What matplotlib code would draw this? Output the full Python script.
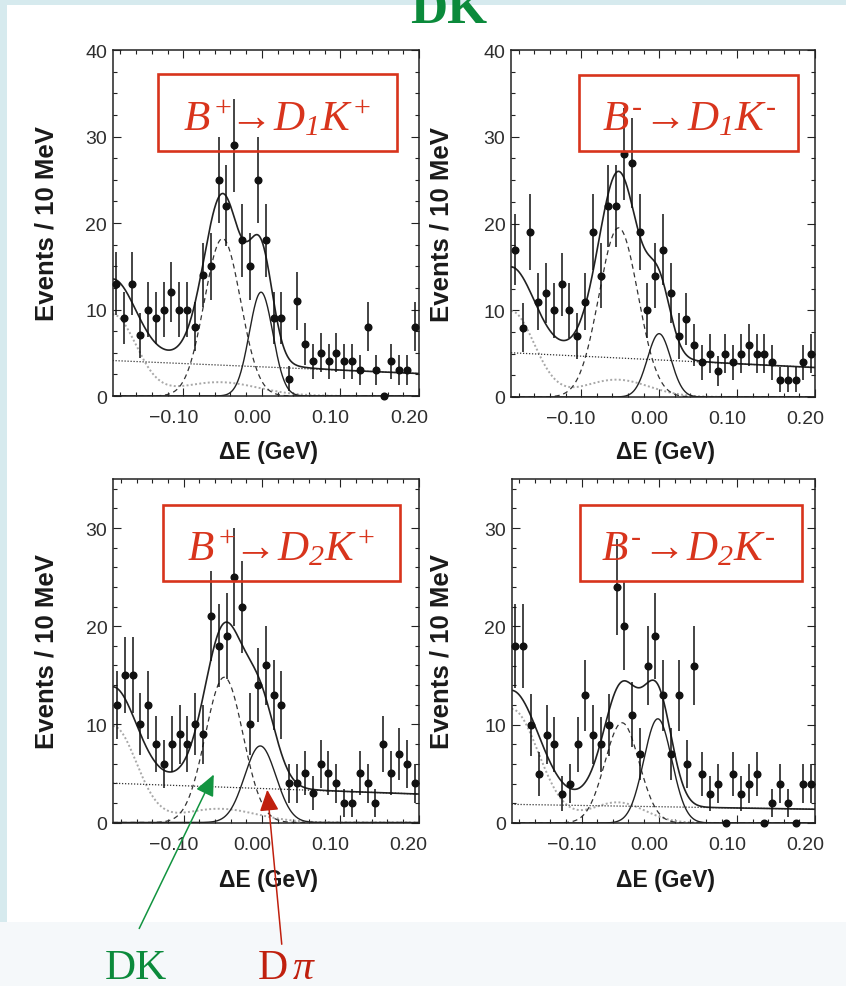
import math
import numpy as np
import matplotlib
matplotlib.use("Agg")
import matplotlib.pyplot as plt
from matplotlib.patches import Rectangle, FancyArrowPatch
from matplotlib.transforms import ScaledTranslation
from matplotlib.ticker import MultipleLocator, FixedLocator

plt.rcParams['font.family'] = ['Liberation Sans', 'DejaVu Sans']
plt.rcParams['mathtext.fontset'] = 'custom'
plt.rcParams['mathtext.rm'] = 'Liberation Serif:italic'
plt.rcParams['mathtext.it'] = 'Liberation Serif:italic'
plt.rcParams['mathtext.bf'] = 'Liberation Serif:bold'

# ---------------- data ----------------
DELTA_E = [-0.185, -0.175, -0.165, -0.155, -0.145, -0.135, -0.125, -0.115, -0.105, -0.095,
           -0.085, -0.075, -0.065, -0.055, -0.045, -0.035, -0.025, -0.015, -0.005, 0.005,
           0.015, 0.025, 0.035, 0.045, 0.055, 0.065, 0.075, 0.085, 0.095, 0.105,
           0.115, 0.125, 0.135, 0.145, 0.155, 0.165, 0.175, 0.185, 0.195]
X_RANGE = (-0.19, 0.20)
X_TICKS = [-0.10, 0.00, 0.10, 0.20]
X_TICK_LABELS = ['\u22120.10', '0.00', '0.10', '0.20']

COUNTS_BP_D1 = [13, 9, 13, 7, 10, 9, 10, 12, 10, 10, 8, 14, 15, 25, 22, 29, 18, 15, 25, 18,
                9, 9, 2, 11, 6, 4, 5, 4, 5, 4, 4, 3, 8, 3, 0, 4, 3, 3, 8]
COUNTS_BM_D1 = [17, 8, 19, 11, 12, 10, 13, 10, 7, 11, 19, 14, 22, 22, 28, 27, 19, 10, 14, 17,
                12, 7, 9, 6, 4, 5, 3, 5, 4, 5, 6, 5, 5, 4, 2, 2, 2, 4, 5]
COUNTS_BP_D2 = [12, 15, 15, 10, 12, 8, 6, 8, 9, 8, 10, 9, 21, 18, 19, 25, 22, 10, 14, 16,
                13, 12, 4, 4, 5, 3, 6, 5, 4, 2, 2, 5, 4, 2, 8, 5, 7, 6, 4]
COUNTS_BM_D2 = [18, 18, 10, 5, 9, 8, 3, 4, 8, 13, 9, 8, 10, 24, 20, 11, 7, 16, 19, 13,
                7, 13, 6, 16, 5, 3, 4, 0, 5, 3, 4, 5, 0, 2, 4, 2, 0, 4, 4]

# fit components: linear background (value at left, right end),
# other background (edge gaussian amp, mean, sigma, bump amp, mean, sigma),
# DK signal (amp, mean, sigma), D-pi peak (amp, mean, sigma)
BKG_BP_D1 = (4.1, 2.6)
OTHER_BP_D1 = (9.4, -0.19, 0.030, 1.6, -0.055, 0.050)
DK_BP_D1 = (18.2, -0.050, 0.023)
DPI_BP_D1 = (12.0, -0.001, 0.015)

BKG_BM_D1 = (5.1, 3.4)
OTHER_BM_D1 = (9.9, -0.19, 0.030, 2.0, -0.055, 0.042)
DK_BM_D1 = (19.5, -0.052, 0.025)
DPI_BM_D1 = (7.3, 0.000, 0.015)

BKG_BP_D2 = (4.0, 2.9)
OTHER_BP_D2 = (9.8, -0.19, 0.030, 1.4, -0.055, 0.048)
DK_BP_D2 = (14.8, -0.048, 0.024)
DPI_BP_D2 = (7.8, -0.002, 0.020)

BKG_BM_D2 = (1.9, 1.4)
OTHER_BM_D2 = (11.6, -0.19, 0.035, 2.1, -0.054, 0.035)
DK_BM_D2 = (10.2, -0.048, 0.022)
DPI_BM_D2 = (10.6, -0.002, 0.018)

HY = '\u2010'
LABEL_BP_D1 = r'$B^{+}\!\!\rightarrow\!D_{1}K^{+}$'
LABEL_BM_D1 = r'$B^{' + HY + r'}\!\rightarrow\!D_{1}K^{' + HY + r'}$'
LABEL_BP_D2 = r'$B^{+}\!\!\rightarrow\!D_{2}K^{+}$'
LABEL_BM_D2 = r'$B^{' + HY + r'}\!\rightarrow\!D_{2}K^{' + HY + r'}$'

TITLE = 'DK'
Y_LABEL = 'Events / 10 MeV'
X_LABEL = '\u0394E (GeV)'
ANNOT_DK = 'DK'
ANNOT_DPI = r'D$\,\pi$'

# ---------------- layout ----------------
W, H, DPI = 846, 987, 100
fig = plt.figure(figsize=(W / DPI, H / DPI), dpi=DPI)
fig.patch.set_facecolor('#d6eaee')


def fx(x):
    return x / W


def fy(y):
    return 1 - y / H


# slide background pieces
fig.add_artist(Rectangle((fx(7), fy(923)), 1 - fx(7), (923 - 6) / H,
                         transform=fig.transFigure, facecolor='white', edgecolor='none', zorder=0))
fig.add_artist(Rectangle((0, 0), 1, fy(923), transform=fig.transFigure,
                         facecolor='#f5f8fa', edgecolor='none', zorder=0))


def gauss(x, a, m, s):
    return a * np.exp(-0.5 * ((x - m) / s) ** 2)


panels = [
    dict(rect=(112.5, 51, 419, 397), ymax=40, yminor=2.5, counts=COUNTS_BP_D1,
         bkg=BKG_BP_D1, other=OTHER_BP_D1, dk=DK_BP_D1, dpi=DPI_BP_D1, label=LABEL_BP_D1,
         box=(158.3, 75, 397.3, 152.3), text=(277.5, 130), ylab_x=47, xlab=(268, 452)),
    dict(rect=(511, 51, 815, 398), ymax=40, yminor=2.5, counts=COUNTS_BM_D1,
         bkg=BKG_BM_D1, other=OTHER_BM_D1, dk=DK_BM_D1, dpi=DPI_BM_D1, label=LABEL_BM_D1,
         box=(579, 75.7, 797.7, 152.3), text=(689, 130), ylab_x=441, xlab=(665, 452)),
    dict(rect=(113, 480, 418.5, 823.5), ymax=35, yminor=2, counts=COUNTS_BP_D2,
         bkg=BKG_BP_D2, other=OTHER_BP_D2, dk=DK_BP_D2, dpi=DPI_BP_D2, label=LABEL_BP_D2,
         box=(163.3, 506, 400, 582.3), text=(281, 560), ylab_x=47, xlab=(268, 881)),
    dict(rect=(511.5, 480, 815, 824), ymax=35, yminor=2, counts=COUNTS_BM_D2,
         bkg=BKG_BM_D2, other=OTHER_BM_D2, dk=DK_BM_D2, dpi=DPI_BM_D2, label=LABEL_BM_D2,
         box=(580, 506, 801.7, 582), text=(688, 560), ylab_x=441, xlab=(665, 881)),
]

RED = '#d8341c'
INK = '#222222'
xf = np.linspace(X_RANGE[0], X_RANGE[1], 600)
xc = np.array(DELTA_E)

for p in panels:
    l, t, r, b = p['rect']
    ax = fig.add_axes([fx(l), fy(b), (r - l) / W, (b - t) / H])
    ax.set_xlim(*X_RANGE)
    ax.set_ylim(0, p['ymax'])
    ax.set_facecolor('white')

    b0, b1 = p['bkg']
    lin = b0 + (b1 - b0) * (xf - X_RANGE[0]) / (X_RANGE[1] - X_RANGE[0])
    a1, m1, s1, a2, m2, s2 = p['other']
    other = gauss(xf, a1, m1, s1) + gauss(xf, a2, m2, s2)
    dk = gauss(xf, *p['dk'])
    dpi_ = gauss(xf, *p['dpi'])
    total = lin + other + dk + dpi_

    ax.plot(xf, other, color='#a8a8a8', lw=1.4, ls=(0, (1, 1.2)))
    ax.plot(xf, lin, color='#333333', lw=0.9, ls=(0, (1, 1.4)))
    ax.plot(xf, dk, color='#333333', lw=0.9, ls=(0, (4, 3)))
    ax.plot(xf, dpi_, color=INK, lw=1.0)
    ax.plot(xf, total, color=INK, lw=1.2)

    y = np.array(p['counts'], dtype=float)
    err = np.sqrt(y)
    cont = ax.errorbar(xc, y, yerr=err, fmt='o', ms=4.8, color='#111111',
                       elinewidth=1.1, capsize=0, zorder=5)
    for art in cont.lines[0:1] + tuple(cont.lines[2]):
        art.set_clip_on(False)

    # axes styling
    for s in ax.spines.values():
        s.set_linewidth(1.1)
        s.set_color(INK)
    ax.xaxis.set_major_locator(FixedLocator(X_TICKS))
    ax.set_xticklabels(X_TICK_LABELS)
    ax.xaxis.set_minor_locator(MultipleLocator(0.02))
    ax.yaxis.set_major_locator(MultipleLocator(10))
    ax.yaxis.set_minor_locator(MultipleLocator(p['yminor']))
    ax.tick_params(which='both', direction='in', top=True, right=True,
                   colors=INK, width=0.8, labelcolor='#2e2e2e', labelsize=14)
    ax.tick_params(which='major', length=6)
    ax.tick_params(which='minor', length=3)
    ax.tick_params(axis='x', pad=9.5)
    ax.tick_params(axis='y', pad=4)
    shift = ScaledTranslation(-10 / DPI, 0, fig.dpi_scale_trans)
    for lab in ax.get_xticklabels():
        lab.set_transform(lab.get_transform() + shift)

    # labels
    fig.text(fx(p['ylab_x']), fy((t + b) / 2), Y_LABEL, rotation=90, ha='center', va='center',
             fontsize=18.5, fontweight='bold', color='#1a1a1a')
    fig.text(fx(p['xlab'][0]), fy(p['xlab'][1]), X_LABEL, ha='center', va='center',
             fontsize=16.5, fontweight='bold', color='#1a1a1a')

    # decay label box
    bl, bt, br, bb = p['box']
    fig.add_artist(Rectangle((fx(bl), fy(bb)), (br - bl) / W, (bb - bt) / H,
                             transform=fig.transFigure, facecolor='none',
                             edgecolor=RED, lw=1.9, zorder=6))
    fig.text(fx(p['text'][0]), fy(p['text'][1]), p['label'], ha='center', va='baseline',
             fontsize=31, color=RED, zorder=7)

# title (cut by the top of the slide, as in the original)
fig.text(fx(449), fy(23), TITLE, ha='center', va='baseline', fontsize=37,
         fontweight='bold', family='Liberation Serif', color='#0b8a3b', zorder=8)

# annotations
GREEN = '#129440'
DARKRED = '#c0200e'
arr_g = FancyArrowPatch(posA=(138, H - 932), posB=(215, H - 773), transform=None,
                        arrowstyle='-|>,head_length=1.0,head_width=0.45',
                        mutation_scale=13, color=GREEN, lw=1.1, zorder=9)
arr_r = FancyArrowPatch(posA=(282, H - 948), posB=(267, H - 788), transform=None,
                        arrowstyle='-|>,head_length=1.0,head_width=0.45',
                        mutation_scale=13, color=DARKRED, lw=1.1, zorder=9)
fig.add_artist(arr_g)
fig.add_artist(arr_r)
fig.text(fx(136), fy(979), ANNOT_DK, ha='center', va='baseline', fontsize=31,
         family='Liberation Serif', color='#0b8a3b', zorder=9)
fig.text(fx(286), fy(979), ANNOT_DPI, ha='center', va='baseline', fontsize=30,
         family='Liberation Serif', color=DARKRED, zorder=9)

fig.savefig('out.png', dpi=DPI, facecolor=fig.get_facecolor())
